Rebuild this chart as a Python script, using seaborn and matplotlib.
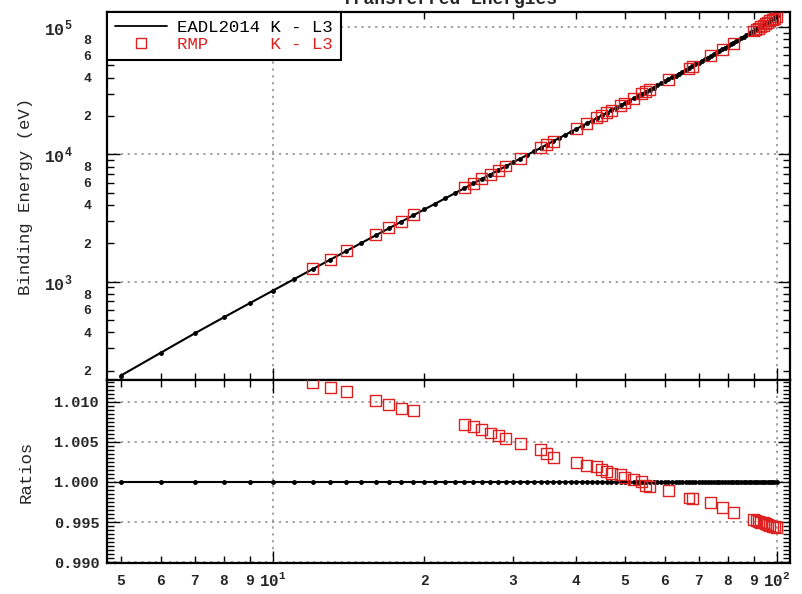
import numpy as np
import matplotlib
matplotlib.use("Agg")
import matplotlib.pyplot as plt
from matplotlib.lines import Line2D
from matplotlib.legend_handler import HandlerLine2D
from matplotlib.ticker import FixedLocator, FixedFormatter, MultipleLocator, FormatStrFormatter, NullFormatter
import seaborn as sns

# ---- data -------------------------------------------------------------
# Atomic number Z and EADL2014 K - L3 transition energies (eV)
z_eadl = list(range(5, 101))
e_eadl = [
    183.3, 277.0, 392.4, 524.9, 676.8, 848.6, 1041.0, 1253.6, 1486.7, 1740.0,
    2013.7, 2307.8, 2622.4, 2957.7, 3313.8, 3691.7, 4090.6, 4510.8, 4952.2, 5414.7,
    5898.8, 6403.8, 6930.3, 7478.2, 8047.8, 8638.9, 9251.7, 9886.4, 10543.7, 11222.4,
    11924.2, 12649.0, 13395.3, 14165.0, 14958.4, 15775.1, 16615.1, 17479.3, 18367.1, 19279.2,
    20216.1, 21177.1, 22162.9, 23173.6, 24209.7, 25271.3, 26359.1, 27472.3, 28612.0, 29779.0,
    30972.8, 32193.6, 33441.8, 34719.7, 36026.3, 37361.0, 38724.7, 40118.1, 41542.2, 42996.2,
    44481.6, 45998.4, 47546.7, 49127.7, 50741.6, 52388.9, 54069.8, 55790.2, 57532.0, 59318.2,
    61140.3, 63000.5, 64895.6, 66832.0, 68803.7, 70819.0, 72871.5, 74969.4, 77107.9, 79290.0,
    81520.0, 83780.0, 86100.0, 88470.0, 90884.0, 93350.0, 95868.0, 98439.0, 101059.0, 103734.0,
    106472.0, 109271.0, 112121.0, 115032.0, 118012.0, 121031.0,
]

# RMP K - L3 values, given as ratio RMP / EADL2014
z_rmp = [12, 13, 14, 16, 17, 18, 19, 24, 25, 26, 27, 28, 29, 31, 34, 35, 36,
         40, 42, 44, 45, 46, 47, 49, 50, 52, 54, 55, 56, 61, 67, 68, 74, 78, 82,
         90, 91, 92, 93, 94, 95, 96, 97, 98, 99, 100]
ratio_rmp = [1.0124, 1.0118, 1.0113, 1.0101, 1.0096, 1.0091, 1.0089,
             1.0071, 1.0069, 1.0065, 1.0061, 1.0058, 1.0054, 1.0048,
             1.0040, 1.0036, 1.0031,
             1.0024, 1.0020, 1.0019, 1.0016, 1.0013, 1.0011, 1.0009, 1.0006,
             1.0003, 1.0000, 0.9996, 0.9994, 0.9989, 0.9980, 0.9979, 0.9974,
             0.9968, 0.9962,
             0.9953, 0.9952, 0.9951, 0.9950, 0.9949, 0.9948, 0.9947, 0.9946,
             0.9945, 0.9944, 0.9943]

x_major = [10, 100]
x_major_labels = [r"$\mathbf{10^{1}}$", r"$\mathbf{10^{2}}$"]
x_minor = [5, 6, 7, 8, 9, 20, 30, 40, 50, 60, 70, 80, 90]
x_minor_labels = ["5", "6", "7", "8", "9", "2", "3", "4", "5", "6", "7", "8", "9"]

y_major = [1e2, 1e3, 1e4, 1e5]
y_major_labels = [r"$\mathbf{10^{2}}$", r"$\mathbf{10^{3}}$", r"$\mathbf{10^{4}}$", r"$\mathbf{10^{5}}$"]
y_minor_subs = [2, 3, 4, 5, 6, 7, 8, 9]
y_minor_labeled = {2: "2", 4: "4", 6: "6", 8: "8"}

legend_labels = ["EADL2014 K - L3", "RMP      K - L3"]
title_text = "Transferred Energies"

# ---- derived series ---------------------------------------------------
e_lookup = dict(zip(z_eadl, e_eadl))
e_rmp = [e_lookup[z] * r for z, r in zip(z_rmp, ratio_rmp)]
ratio_eadl = [e / e for e in e_eadl]

# ---- style ------------------------------------------------------------
sns.set_theme(style="ticks")
plt.rcParams["font.family"] = ["Liberation Mono", "DejaVu Sans"]
plt.rcParams["font.weight"] = "bold"
plt.rcParams["mathtext.fontset"] = "custom"
plt.rcParams["mathtext.rm"] = "Liberation Mono:bold"
plt.rcParams["mathtext.bf"] = "Liberation Mono:bold"
plt.rcParams["axes.linewidth"] = 1.6
plt.rcParams["axes.edgecolor"] = "black"

RED = "#dd2020"

fig = plt.figure(figsize=(8.02, 5.94), dpi=100)
left, width = 107 / 802, 683 / 802
ax1 = fig.add_axes([left, 1 - 380 / 594, width, 368 / 594])
ax2 = fig.add_axes([left, 1 - 563 / 594, width, 183 / 594], sharex=ax1)

# ---- upper panel: energies --------------------------------------------
sns.lineplot(x=z_eadl, y=e_eadl, ax=ax1, color="black", lw=1.5, marker="o",
             markersize=3.5, markeredgewidth=0, estimator=None, sort=False, zorder=3)
sns.scatterplot(x=z_rmp, y=e_rmp, ax=ax1, marker="s", s=62, facecolors="none",
                edgecolor=RED, linewidth=1.0, zorder=4)

# ---- lower panel: ratios ----------------------------------------------
sns.lineplot(x=z_eadl, y=ratio_eadl, ax=ax2, color="black", lw=1.5, marker="o",
             markersize=3.5, markeredgewidth=0, estimator=None, sort=False, zorder=3)
sns.scatterplot(x=z_rmp, y=ratio_rmp, ax=ax2, marker="s", s=62, facecolors="none",
                edgecolor=RED, linewidth=1.0, zorder=4)

for ax in (ax1, ax2):
    ax.set_xscale("log")
    ax.set_xlim(4.69, 106.3)
    ax.xaxis.set_major_locator(FixedLocator(x_major))
    ax.xaxis.set_minor_locator(FixedLocator(x_minor))
    ax.tick_params(which="both", direction="in", top=True, right=True,
                   color="black", width=1.0)
    ax.tick_params(which="major", length=9)
    ax.tick_params(which="minor", length=5)
    ax.grid(which="major", ls=(0, (1.5, 3)), color="#8a8a8a", lw=1.1)
    ax.set_xlabel("")
    for s in ax.spines.values():
        s.set_linewidth(1.6)

# x labels only on the lower panel
ax1.xaxis.set_major_formatter(NullFormatter())
ax1.xaxis.set_minor_formatter(NullFormatter())
ax2.xaxis.set_major_formatter(FixedFormatter(x_major_labels))
ax2.xaxis.set_minor_formatter(FixedFormatter(x_minor_labels))
ax2.tick_params(axis="x", which="major", labelsize=11.5, pad=6)
ax2.tick_params(axis="x", which="minor", labelsize=10.5, pad=8)

# upper y axis (log)
ax1.set_yscale("log")
ax1.set_ylim(169, 131000)
ax1.yaxis.set_major_locator(FixedLocator(y_major))
ax1.yaxis.set_major_formatter(FixedFormatter(y_major_labels))
minor_pos, minor_lab = [], []
for dec in (1e2, 1e3, 1e4, 1e5):
    for s in y_minor_subs:
        minor_pos.append(s * dec)
        minor_lab.append(y_minor_labeled.get(s, ""))
ax1.yaxis.set_minor_locator(FixedLocator(minor_pos))
ax1.yaxis.set_minor_formatter(FixedFormatter(minor_lab))
ax1.tick_params(axis="y", which="major", labelsize=12, pad=25)
ax1.tick_params(axis="y", which="minor", labelsize=9.5, pad=11)
ax1.set_ylabel("Binding Energy (eV)", fontsize=12.5, fontweight="normal")
ax1.yaxis.set_label_coords(-0.108, 0.5)

# lower y axis (linear)
ax2.set_ylim(0.9899, 1.0127)
ax2.yaxis.set_major_locator(MultipleLocator(0.005))
ax2.yaxis.set_major_formatter(FormatStrFormatter("%.3f"))
ax2.yaxis.set_minor_locator(MultipleLocator(0.0005))
ax2.tick_params(axis="y", which="major", labelsize=11, pad=5)
ax2.set_ylabel("Ratios", fontsize=12.5, fontweight="normal")
ax2.yaxis.set_label_coords(-0.108, 0.5)


# legend: square marker sits at the right end of the handle
class MarkerAtEnd(HandlerLine2D):
    def get_xdata(self, legend, xdescent, ydescent, width, height, fontsize):
        xdata, _ = super().get_xdata(legend, xdescent, ydescent, width, height, fontsize)
        return xdata, np.array([-xdescent + 0.9 * width])


h_eadl = Line2D([], [], color="black", lw=1.3)
h_rmp = Line2D([], [], ls="none", marker="s", markersize=7, markerfacecolor="none",
               markeredgecolor=RED, markeredgewidth=1.0)
leg = ax1.legend([h_eadl, h_rmp], legend_labels, loc="upper left",
                 bbox_to_anchor=(0, 1), borderaxespad=0, frameon=True,
                 fancybox=False, framealpha=1, edgecolor="black",
                 handlelength=3.0, handletextpad=0.6, borderpad=0.45,
                 labelspacing=0.1, labelcolor=["black", RED],
                 prop={"family": "Liberation Mono", "size": 12.5, "weight": "normal"},
                 handler_map={h_rmp: MarkerAtEnd(numpoints=1)})
leg.get_frame().set_linewidth(1.5)
leg.set_zorder(10)

fig.text(450 / 802, 1 - 4 / 594, title_text, ha="center", va="baseline",
         fontsize=13, fontweight="bold")

fig.savefig("out.png", dpi=100)
